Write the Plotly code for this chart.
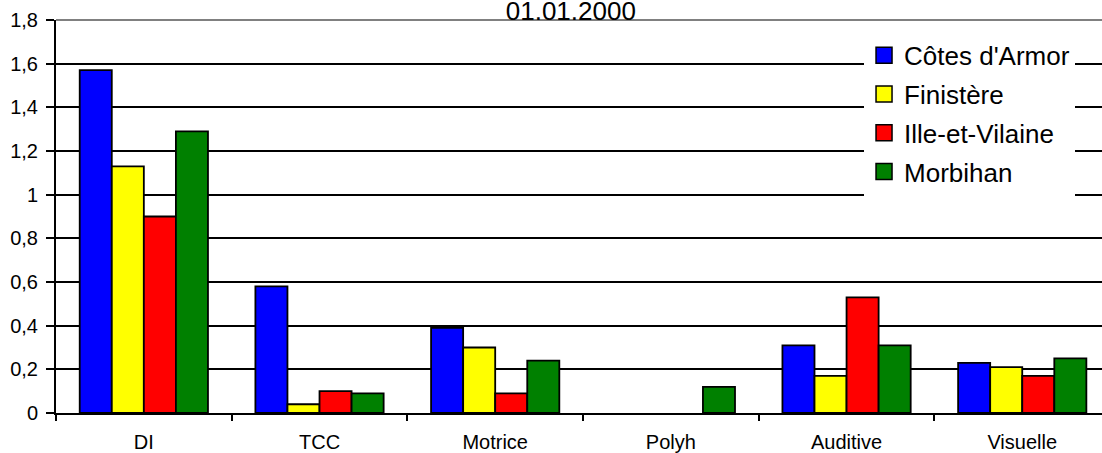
import plotly.graph_objects as go

categories = ["DI", "TCC", "Motrice", "Polyh", "Auditive", "Visuelle"]
series_names = ["Côtes d'Armor", "Finistère", "Ille-et-Vilaine", "Morbihan"]
cotes_armor = [1.57, 0.58, 0.39, 0.0, 0.31, 0.23]
finistere = [1.13, 0.04, 0.30, 0.0, 0.17, 0.21]
ille_et_vilaine = [0.90, 0.10, 0.09, 0.0, 0.53, 0.17]
morbihan = [1.29, 0.09, 0.24, 0.12, 0.31, 0.25]
y_tickvals = [0, 0.2, 0.4, 0.6, 0.8, 1.0, 1.2, 1.4, 1.6, 1.8]
y_ticktext = ["0", "0,2", "0,4", "0,6", "0,8", "1", "1,2", "1,4", "1,6", "1,8"]
title_text = "01.01.2000"

colors = ["#0000FF", "#FFFF00", "#FF0000", "#008000"]
values = [cotes_armor, finistere, ille_et_vilaine, morbihan]
FONT = "Liberation Sans, Arial, sans-serif"

fig = go.Figure()
for name, vals, col in zip(series_names, values, colors):
    widths = [0 if v == 0 else 1.8 for v in vals]
    fig.add_trace(go.Bar(
        x=categories, y=vals, name=name, showlegend=False,
        marker=dict(color=col, line=dict(color="black", width=widths)),
    ))
for i, (name, col) in enumerate(zip(series_names, colors)):
    fig.add_trace(go.Scatter(
        x=[None], y=[None], mode="markers", name=name, legendgroup=f"g{i}",
        marker=dict(symbol="square", size=16, color=col,
                    line=dict(color="black", width=1.5)),
    ))

fig.update_layout(
    template="none",
    width=1102, height=453,
    margin=dict(l=56, r=0, t=20, b=40, pad=0),
    paper_bgcolor="white", plot_bgcolor="white",
    font=dict(family=FONT, color="black", size=20),
    barmode="group", bargap=0.27, bargroupgap=0,
    title=dict(text=title_text, font=dict(size=26, family=FONT, color="black"),
               x=0.518, xanchor="center", xref="container",
               y=1 - 11 / 453, yanchor="middle", yref="container"),
    legend=dict(
        x=0.7725, xanchor="left", y=0.97, yanchor="top",
        bgcolor="white", borderwidth=0,
        font=dict(size=26, family=FONT, color="black"),
        traceorder="grouped", tracegroupgap=2, itemsizing="trace",
    ),
    xaxis=dict(
        type="category", range=[-0.5, 5.454],
        showline=True, linecolor="black", linewidth=2, layer="above traces",
        ticks="outside", tickson="boundaries", ticklen=6, tickwidth=2, tickcolor="black",
        showgrid=False, zeroline=False, automargin=False,
        tickfont=dict(size=20, family=FONT, color="black"),
        ticklabelstandoff=10,
    ),
    yaxis=dict(
        range=[0, 1.8], tickvals=y_tickvals, ticktext=y_ticktext,
        showline=True, linecolor="black", linewidth=2,
        ticks="outside", ticklen=8, tickwidth=2, tickcolor="black",
        showgrid=True, gridcolor="black", gridwidth=1.6,
        zeroline=False, automargin=False,
        tickfont=dict(size=20, family=FONT, color="black"),
        ticklabelstandoff=4,
    ),
    shapes=[dict(type="line", xref="paper", yref="paper", x0=0, x1=1, y0=1, y1=1,
                 line=dict(color="#808080", width=2), layer="above")],
)

fig.write_html("out.html")
